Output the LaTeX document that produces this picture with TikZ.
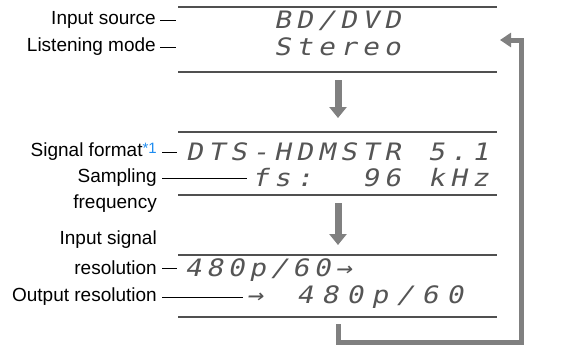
\documentclass[tikz,border=0pt]{standalone}
\usepackage{fontspec}
\setmainfont{Liberation Sans}
\newfontfamily\dmfont[FakeSlant=0.22,FakeStretch=1.15]{DejaVu Sans Mono}
\usetikzlibrary{arrows.meta}
\definecolor{arrowgray}{HTML}{808080}
\definecolor{linegray}{HTML}{505050}
\definecolor{dmgray}{HTML}{555555}
\definecolor{noteblue}{HTML}{1E8CF0}
\newlength\dmpitch \setlength\dmpitch{22pt}
\def\dmrow#1{\dmgo#1\relax}
\def\dmgo#1{\ifx#1\relax\else\dmcell{#1}\expandafter\dmgo\fi}
\def\dmcell#1{\ifx#1_\hbox to\dmpitch{\hfil}\else\hbox to\dmpitch{\hfil#1\hfil}\fi}
\begin{document}
\begin{tikzpicture}[x=1pt,y=-1pt,
  lbl/.style={inner sep=0pt,font=\fontsize{19}{21}\selectfont,anchor=east,align=right},
  dm/.style={inner sep=0pt,font=\dmfont\fontsize{24}{26}\selectfont,text=dmgray,anchor=west},
  dline/.style={draw=linegray,line width=1.2pt},
  leader/.style={draw=black,line width=0.9pt},
  bigarrow/.style={draw=arrowgray,line width=7pt,-{Triangle[width=17pt,length=11pt]}},
  retarrow/.style={draw=arrowgray,line width=5pt,miter limit=10,-{Triangle[width=14pt,length=11pt]}}]
\useasboundingbox (0,0) rectangle (562,346);
% display boxes (rules)
\coordinate (t1l) at (178,7);   \coordinate (t1r) at (497,7);
\coordinate (b1l) at (178,72);  \coordinate (b1r) at (497,72);
\coordinate (t2l) at (178,132); \coordinate (t2r) at (497,132);
\coordinate (b2l) at (178,195); \coordinate (b2r) at (497,195);
\coordinate (t3l) at (178,255); \coordinate (t3r) at (497,255);
\coordinate (b3l) at (178,317); \coordinate (b3r) at (497,317);
\draw[dline] (t1l) -- (t1r); \draw[dline] (b1l) -- (b1r);
\draw[dline] (t2l) -- (t2r); \draw[dline] (b2l) -- (b2r);
\draw[dline] (t3l) -- (t3r); \draw[dline] (b3l) -- (b3r);
% display texts
\node[dm] (r1a) at (183,21)  {\dmrow{____BD/DVD}};
\node[dm] (r1b) at (183,47)  {\dmrow{____Stereo}};
\node[dm] (r2a) at (183,152) {\dmrow{DTS-HDMSTR_5.1}};
\node[dm] (r2b) at (183,178) {\dmrow{___fs:__96_kHz}};
\node[dm] (r3a) at (182,270) {\setlength\dmpitch{21.5pt}\dmrow{480p/60→}};
\node[dm] (r3b) at (242,297) {\setlength\dmpitch{25pt}\dmrow{→_480p/60}};
% labels
\node[lbl] (lab1) at (156,20) {Input source};
\node[lbl] (lab2) at (156,47) {Listening mode};
\node[lbl] (lab3) at (157,152) {Signal format\textcolor{noteblue}{\raisebox{0.35ex}{\fontsize{15}{15}\selectfont *1}}};
\node[lbl] (lab4) at (157,178) {Sampling};
\node[lbl,anchor=north east] (lab4b) at (157,195) {frequency};
\node[lbl,anchor=south east] (lab5a) at (157,249) {Input signal};
\node[lbl] (lab5) at (157,268) {resolution};
\node[lbl] (lab6) at (157,297) {Output resolution};
% leaders
\coordinate (e4) at (247,178);
\coordinate (e6) at (243,297);
\draw[leader] ([xshift=4]lab1.east) -- ([xshift=20]lab1.east);
\draw[leader] ([xshift=4]lab2.east) -- ([xshift=20]lab2.east);
\draw[leader] ([xshift=5]lab3.east) -- ([xshift=20]lab3.east);
\draw[leader] ([xshift=5]lab4.east) -- (e4);
\draw[leader] ([xshift=5]lab5.east) -- ([xshift=20]lab5.east);
\draw[leader] ([xshift=5]lab6.east) -- (e6);
% arrows
\coordinate (a1s) at (338,80);  \coordinate (a1e) at (338,118);
\coordinate (a2s) at (338,203); \coordinate (a2e) at (338,245);
\draw[bigarrow] (a1s) -- (a1e);
\draw[bigarrow] (a2s) -- (a2e);
\coordinate (rs) at (338,324);
\coordinate (rc1) at (338,342);
\coordinate (rc2) at (521,342);
\coordinate (rc3) at (521,40);
\coordinate (re) at (500,40);
\draw[retarrow] (rs) -- (rc1) -- (rc2) -- (rc3) -- (re);
\end{tikzpicture}
\end{document}
